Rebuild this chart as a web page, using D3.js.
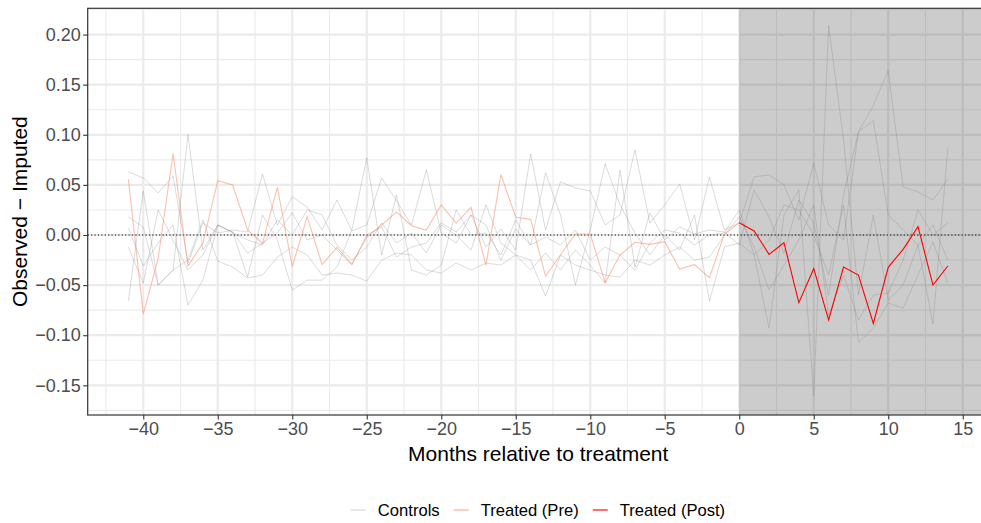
<!DOCTYPE html>
<html><head><meta charset="utf-8">
<script src="https://cdn.jsdelivr.net/npm/d3@7"></script>
<style>
body{margin:0;background:#fff;}
svg{display:block;font-family:"Liberation Sans",Arial,Helvetica,sans-serif;}
</style>
</head><body>
<svg id="chart" width="981" height="523"></svg>
<script>
// ---------------- DATA ----------------
const months = [-41,-40,-39,-38,-37,-36,-35,-34,-33,-32,-31,-30,-29,-28,-27,-26,-25,-24,-23,-22,
  -21,-20,-19,-18,-17,-16,-15,-14,-13,-12,-11,-10,-9,-8,-7,-6,-5,-4,-3,-2,-1,0,
  1,2,3,4,5,6,7,8,9,10,11,12,13,14];
const preMonths = months.filter(m => m <= 0);
const postMonths = months.filter(m => m >= 0);

const treatedPre = [0.0556,-0.0789,-0.0233,0.0815,-0.031,-0.008,0.0542,0.0499,0.005,-0.0083,
  0.0476,-0.0316,0.0183,-0.0296,-0.0123,-0.029,-0.0023,0.010,0.023,0.0093,
  0.005,0.030,0.0117,0.0276,-0.0303,0.0605,0.0176,0.0156,-0.041,-0.020,
  0.001,0.001,-0.0476,-0.020,-0.0073,-0.0093,-0.0067,-0.034,-0.0296,-0.0426,
  0.0007,0.0123];
const treatedPost = [0.0123,0.004,-0.0193,-0.0077,-0.0675,-0.0336,-0.0848,-0.032,-0.040,-0.0882,
  -0.0323,-0.0143,0.0083,-0.0499,-0.0309];

const control1 = [0.063,0.057,0.042,0.059,-0.028,0.012,0.002,0.005,0.003,0.061,
  0.010,0.038,0.028,0.005,0.035,0.004,0.010,0.057,0.034,0.010,
  0.065,0.002,-0.008,0.020,-0.012,0.006,-0.015,0.081,0.005,0.053,
  0.047,0.044,0.010,0.020,0.085,0.012,0.030,0.051,-0.005,0.058,
  0.005,0.012,0.058,0.060,0.050,0.015,0.072,0.010,-0.005,0.103,
  0.114,0.020,0.005,-0.010,0.010,-0.025];
const control2 = [-0.0655,0.044,-0.050,-0.035,0.100,-0.015,0.010,0.003,-0.042,0.020,
  -0.005,-0.055,-0.045,-0.045,-0.032,0.005,0.077,-0.020,0.040,-0.035,
  -0.040,-0.030,0.025,0.000,0.002,-0.020,0.015,-0.010,0.062,0.020,
  -0.050,0.005,0.071,0.030,0.002,-0.020,0.000,-0.015,0.020,-0.066,
  -0.012,-0.008,-0.020,-0.093,0.020,0.045,-0.161,0.209,0.095,-0.060,
  0.020,-0.065,-0.050,-0.010,-0.089,0.0865];
const control3 = [0.007,-0.031,-0.008,0.010,-0.070,-0.045,0.010,0.002,-0.005,-0.010,
  0.015,0.000,0.025,0.020,-0.010,-0.025,-0.012,0.012,-0.008,0.002,
  -0.018,0.010,0.000,-0.015,0.030,-0.008,-0.020,-0.035,-0.018,-0.035,
  -0.015,-0.030,-0.048,0.065,-0.032,0.022,-0.005,0.008,0.001,0.005,
  0.003,-0.010,0.045,0.018,-0.018,0.035,0.012,-0.060,0.040,0.103,
  0.129,0.164,0.048,0.043,0.035,0.0556];
const control4 = [-0.012,-0.048,0.025,-0.005,-0.035,-0.020,0.010,0.003,-0.018,-0.008,
  0.002,0.022,-0.005,0.000,-0.015,-0.030,0.000,0.008,-0.022,-0.012,
  -0.008,0.012,0.003,0.020,0.010,-0.025,0.006,-0.010,-0.002,-0.010,
  0.005,-0.025,-0.012,-0.020,-0.035,-0.008,0.005,0.002,-0.010,0.000,
  0.002,0.025,-0.020,-0.005,0.030,0.025,0.000,-0.040,0.030,-0.107,
  -0.093,-0.068,-0.073,-0.040,-0.007,-0.048];
const control5 = [0.018,0.008,-0.050,-0.035,-0.025,0.015,-0.026,-0.032,-0.043,-0.040,
  -0.022,-0.012,-0.020,-0.040,-0.038,-0.040,-0.046,-0.025,-0.018,-0.020,
  -0.035,-0.038,-0.028,-0.035,-0.028,-0.030,-0.020,-0.025,-0.061,-0.020,
  -0.030,-0.035,-0.040,-0.042,-0.025,-0.030,-0.020,-0.012,-0.025,-0.022,
  0.000,0.018,-0.012,-0.055,-0.030,-0.005,0.030,-0.080,-0.040,-0.085,
  -0.060,-0.058,-0.025,0.025,0.000,0.012];
const controls = [control1, control2, control3, control4, control5];

const xTicks = [-40,-35,-30,-25,-20,-15,-10,-5,0,5,10,15];
const yTicks = [-0.15,-0.10,-0.05,0.00,0.05,0.10,0.15,0.20];
const legendLabels = ["Controls","Treated (Pre)","Treated (Post)"];
const xTitle = "Months relative to treatment";
const yTitle = "Observed \u2212 Imputed";

// ---------------- LAYOUT ----------------
const svg = d3.select("#chart");
const P = {left: 87.7, right: 988.8, top: 8.3, bottom: 415};
const x = d3.scaleLinear().domain([-43.73, 16.75]).range([P.left, P.right]);
const y = d3.scaleLinear().domain([-0.1796, 0.2262]).range([P.bottom, P.top]);

const colControl = "#7f7f7f", colPre = "#f98c6a", colPost = "#ff0000";

svg.append("defs").append("clipPath").attr("id","clip")
  .append("rect").attr("x",P.left).attr("y",P.top)
  .attr("width",P.right-P.left).attr("height",P.bottom-P.top);

const panel = svg.append("g").attr("clip-path","url(#clip)");
panel.append("rect").attr("x",P.left).attr("y",P.top)
  .attr("width",P.right-P.left).attr("height",P.bottom-P.top).attr("fill","#fff");

// minor grid
const xMinor = xTicks.map(t => t - 2.5).filter(t => t > x.domain()[0] && t < x.domain()[1]);
const yMinor = yTicks.map(t => t + 0.025).concat([yTicks[0]-0.025]).filter(t => t > y.domain()[0] && t < y.domain()[1]);
panel.selectAll(".xminor").data(xMinor).join("line")
  .attr("x1",d=>x(d)).attr("x2",d=>x(d)).attr("y1",P.top).attr("y2",P.bottom)
  .attr("stroke","#ebebeb").attr("stroke-width",1.1);
panel.selectAll(".yminor").data(yMinor).join("line")
  .attr("y1",d=>y(d)).attr("y2",d=>y(d)).attr("x1",P.left).attr("x2",P.right)
  .attr("stroke","#ebebeb").attr("stroke-width",1.1);
// major grid
panel.selectAll(".xmajor").data(xTicks).join("line")
  .attr("x1",d=>x(d)).attr("x2",d=>x(d)).attr("y1",P.top).attr("y2",P.bottom)
  .attr("stroke","#ebebeb").attr("stroke-width",2.2);
panel.selectAll(".ymajor").data(yTicks).join("line")
  .attr("y1",d=>y(d)).attr("y2",d=>y(d)).attr("x1",P.left).attr("x2",P.right)
  .attr("stroke","#ebebeb").attr("stroke-width",2.2);

// shaded post-treatment region
panel.append("rect").attr("x",x(0)).attr("y",P.top)
  .attr("width",P.right-x(0)).attr("height",P.bottom-P.top)
  .attr("fill","#000").attr("fill-opacity",0.2);

// zero line
panel.append("line").attr("x1",P.left).attr("x2",P.right).attr("y1",y(0)).attr("y2",y(0))
  .attr("stroke","#000").attr("stroke-width",1.1).attr("stroke-dasharray","1.2,2.2");

const line = d3.line().x(d=>x(d[0])).y(d=>y(d[1]));
panel.selectAll(".ctrl").data(controls).join("path")
  .attr("d", vals => line(months.map((m,i)=>[m, vals[i]])))
  .attr("fill","none").attr("stroke",colControl).attr("stroke-opacity",0.28).attr("stroke-width",1);
panel.append("path").attr("d", line(preMonths.map((m,i)=>[m, treatedPre[i]])))
  .attr("fill","none").attr("stroke",colPre).attr("stroke-opacity",0.55).attr("stroke-width",1.1);
panel.append("path").attr("d", line(postMonths.map((m,i)=>[m, treatedPost[i]])))
  .attr("fill","none").attr("stroke",colPost).attr("stroke-width",1.1);

// border
svg.append("rect").attr("x",P.left).attr("y",P.top)
  .attr("width",P.right-P.left).attr("height",P.bottom-P.top)
  .attr("fill","none").attr("stroke","#333").attr("stroke-width",1.2);

// axes
const fmtY = d3.format(".2f");
const gy = svg.append("g").attr("transform",`translate(${P.left},0)`)
  .call(d3.axisLeft(y).tickValues(yTicks).tickFormat(fmtY).tickSize(4.5).tickPadding(2.5));
const gx = svg.append("g").attr("transform",`translate(0,${P.bottom})`)
  .call(d3.axisBottom(x).tickValues(xTicks).tickFormat(d3.format("d")).tickSize(4.5).tickPadding(3));
[gx, gy].forEach(g => {
  g.select(".domain").remove();
  g.selectAll(".tick line").attr("stroke","#333").attr("stroke-width",1.1);
  g.selectAll(".tick text").attr("fill","#4d4d4d").style("font-size","18px")
    .style("font-family",'"Liberation Sans",Arial,sans-serif');
});

// titles
svg.append("text").attr("x",(P.left+P.right)/2).attr("y",461)
  .attr("text-anchor","middle").style("font-size","21px").attr("fill","#000").text(xTitle);
svg.append("text").attr("transform",`translate(26.5,${(P.top+P.bottom)/2}) rotate(-90)`)
  .attr("text-anchor","middle").style("font-size","21px").attr("fill","#000").text(yTitle);

// legend
const legColors = ["#e3e3e3","#fcc3b2","#ff4a4a"];
const lg = svg.append("g");
const keyW = 15, keyGap = 12, itemGap = 14, legY = 510;
const items = lg.selectAll("g").data(legendLabels).join("g");
items.append("line").attr("x1",0).attr("x2",keyW).attr("y1",legY).attr("y2",legY)
  .attr("stroke",(d,i)=>legColors[i]).attr("stroke-width",1.6);
items.append("text").attr("x",keyW+keyGap).attr("y",legY+6)
  .style("font-size","16.6px").attr("fill","#000").text(d=>d);
let widths = [];
items.each(function(){ widths.push(keyW+keyGap+d3.select(this).select("text").node().getComputedTextLength()); });
const total = d3.sum(widths) + itemGap*(widths.length-1);
let cx = 538 - total/2;
items.attr("transform",(d,i)=>{ const t = `translate(${cx},0)`; cx += widths[i] + itemGap; return t; });
</script>
</body></html>
